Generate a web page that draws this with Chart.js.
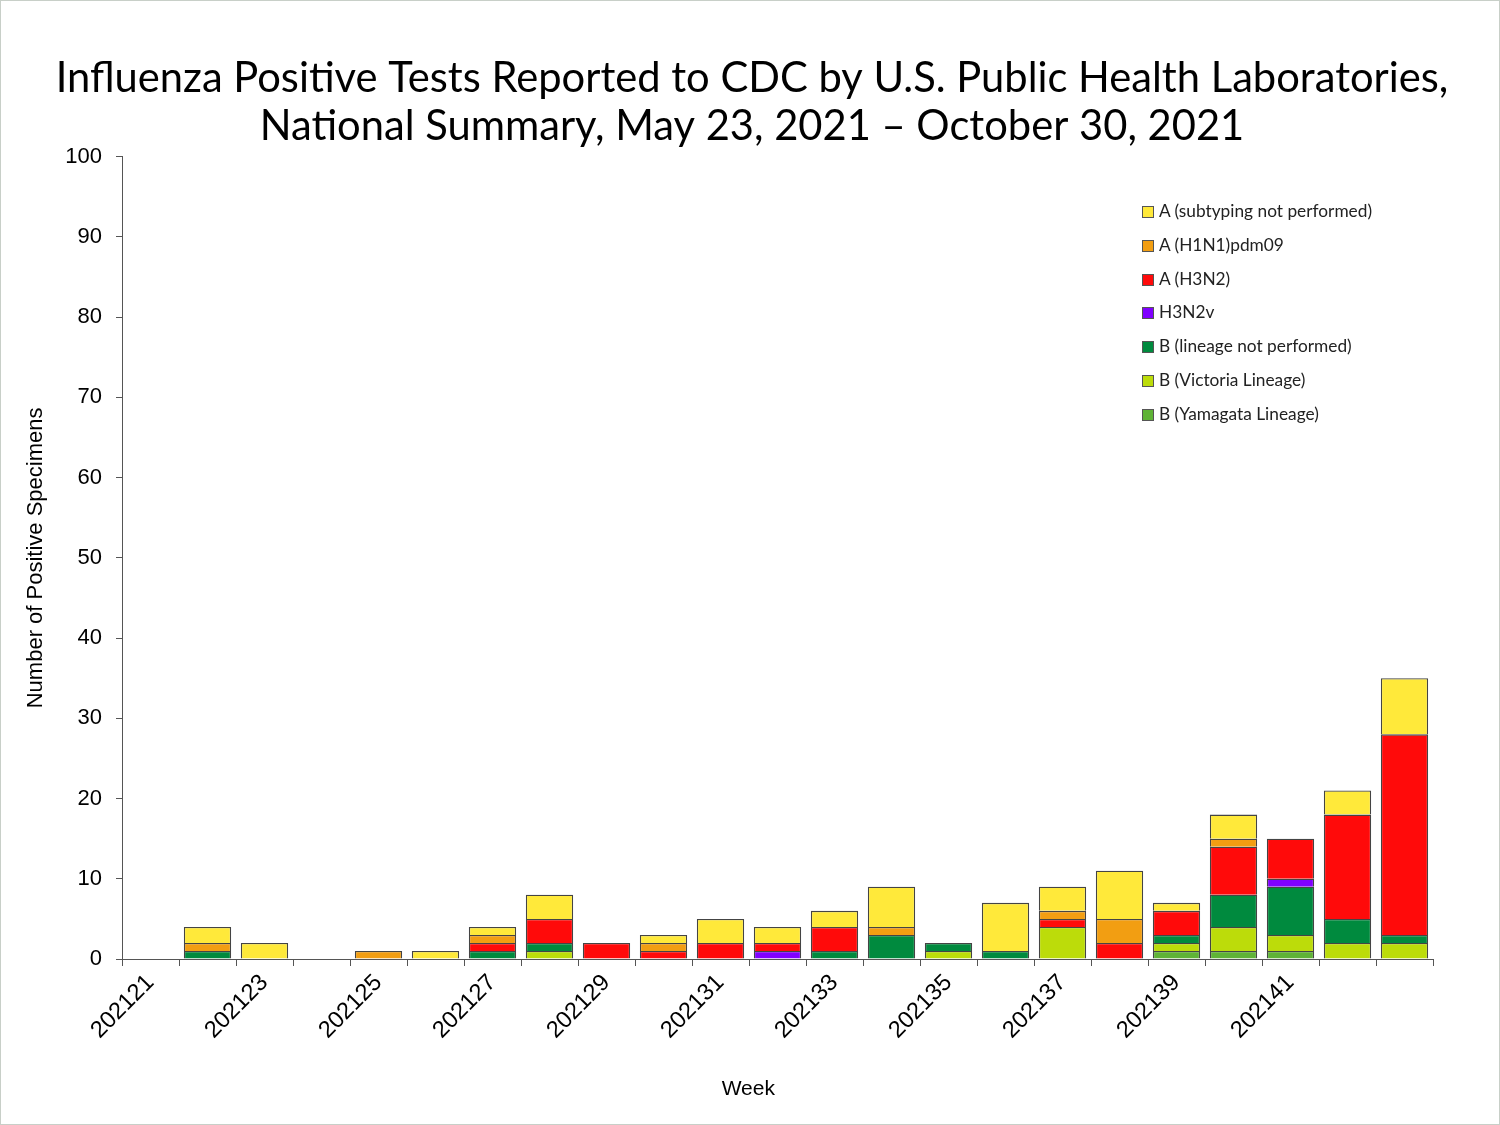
<!DOCTYPE html>
<html>
<head>
<meta charset="utf-8">
<script src="https://cdn.jsdelivr.net/npm/chart.js@4.4.1/dist/chart.umd.min.js"></script>
<style>
  html, body { margin: 0; padding: 0; background: #fff; }
  #wrap { position: relative; width: 1500px; height: 1125px; box-sizing: border-box; border: 1px solid #c8cfc8; }
  #chart { position: absolute; left: 0; top: 0; }
  #legend { position: absolute; left: 1141px; top: 199px; font-family: Lato, 'Open Sans', sans-serif; font-size: 17.3px; color: #222; }
  #legend div { height: 33.8px; display: flex; align-items: flex-start; }
  #legend span.box { display: inline-block; width: 10px; height: 10px; border: 1px solid #555; margin: 6px 5px 0 0; }
</style>
</head>
<body>
<div id="wrap">
  <canvas id="chart" width="1500" height="1125"></canvas>
  <div id="legend"></div>
</div>
<script>
// weeks shown on the x axis
const weeks = ['202121', '202122', '202123', '202124', '202125', '202126', '202127', '202128',
  '202129', '202130', '202131', '202132', '202133', '202134', '202135', '202136', '202137',
  '202138', '202139', '202140', '202141', '202142', '202143']

// counts per week, one array per virus type
const bYamagata = [0, 0, 0, 0, 0, 0, 0, 0, 0, 0, 0, 0, 0, 0, 0, 0, 0, 0, 1, 1, 1, 0, 0]
const bVictoria = [0, 0, 0, 0, 0, 0, 0, 1, 0, 0, 0, 0, 0, 0, 1, 0, 4, 0, 1, 3, 2, 2, 2]
const bLineageNotPerformed = [0, 1, 0, 0, 0, 0, 1, 1, 0, 0, 0, 0, 1, 3, 1, 1, 0, 0, 1, 4, 6, 3, 1]
const h3n2v = [0, 0, 0, 0, 0, 0, 0, 0, 0, 0, 0, 1, 0, 0, 0, 0, 0, 0, 0, 0, 1, 0, 0]
const aH3N2 = [0, 0, 0, 0, 0, 0, 1, 3, 2, 1, 2, 1, 3, 0, 0, 0, 1, 2, 3, 6, 5, 13, 25]
const aH1N1 = [0, 1, 0, 0, 1, 0, 1, 0, 0, 1, 0, 0, 0, 1, 0, 0, 1, 3, 0, 1, 0, 0, 0]
const aNotSubtyped = [0, 2, 2, 0, 0, 1, 1, 3, 0, 1, 3, 2, 2, 5, 0, 6, 3, 6, 1, 3, 0, 3, 7]

const yTicks = [0, 10, 20, 30, 40, 50, 60, 70, 80, 90, 100]
// only every other week gets a label, the last one is left blank
const xTickLabels = ['202121', '', '202123', '', '202125', '', '202127', '', '202129', '',
  '202131', '', '202133', '', '202135', '', '202137', '', '202139', '', '202141', '', '']

// bottom of the stack first
const series = [
  { label: 'B (Yamagata Lineage)', data: bYamagata, color: '#5fb336' },
  { label: 'B (Victoria Lineage)', data: bVictoria, color: '#bcdc0a' },
  { label: 'B (lineage not performed)', data: bLineageNotPerformed, color: '#008a3e' },
  { label: 'H3N2v', data: h3n2v, color: '#8000ff' },
  { label: 'A (H3N2)', data: aH3N2, color: '#ff0a0a' },
  { label: 'A (H1N1)pdm09', data: aH1N1, color: '#f29e12' },
  { label: 'A (subtyping not performed)', data: aNotSubtyped, color: '#ffe93a' }
]

const datasets = series.map(s => {
  return {
    label: s.label,
    data: s.data,
    backgroundColor: s.color,
    borderColor: '#444',
    borderWidth: 1.3,
    categoryPercentage: 0.83,
    barPercentage: 1,
    stack: 'flu',
    yAxisID: 'y'
  }
})

const axisColor = '#555'
const arial = 'Liberation Sans, Arial, sans-serif'

const configuration = {
  type: 'bar',
  data: {
    labels: weeks,
    datasets: datasets
  },
  options: {
    responsive: false,
    animation: false,
    layout: {
      padding: { left: 18, right: 16, top: 0, bottom: 20 }
    },
    scales: {
      x: {
        stacked: true,
        grid: {
          offset: true,
          drawOnChartArea: false,
          drawTicks: true,
          tickLength: 7,
          color: axisColor
        },
        border: { color: axisColor, width: 1 },
        ticks: {
          autoSkip: false,
          maxRotation: 45,
          minRotation: 45,
          color: '#000',
          font: { family: arial, size: 23.5 },
          callback: function (value, index) {
            return xTickLabels[index]
          }
        },
        title: {
          display: true,
          // trailing spaces pull the centred title a little to the left, as in the original
          text: 'Week          ',
          color: '#000',
          font: { family: arial, size: 21 }
        },
        afterFit: function (scale) {
          scale.height = 1125 - 958 - 20
        }
      },
      y: {
        stacked: true,
        min: 0,
        max: 100,
        afterBuildTicks: function (scale) {
          scale.ticks = yTicks.map(v => ({ value: v }))
        },
        grid: {
          drawOnChartArea: false,
          drawTicks: true,
          tickLength: 6,
          color: axisColor
        },
        border: { color: axisColor, width: 1 },
        ticks: {
          color: '#000',
          padding: 14,
          font: { family: arial, size: 22 }
        },
        title: {
          display: true,
          text: 'Number of Positive Specimens',
          color: '#000',
          font: { family: arial, size: 22 }
        },
        afterFit: function (scale) {
          scale.width = 121 - 18
        }
      },
      // empty axis on the right, only keeps the plot's right edge where it is
      spacer: {
        position: 'right',
        grid: { display: false },
        border: { display: false },
        ticks: { display: false },
        afterFit: function (scale) {
          scale.width = 1500 - 16 - 1432
        }
      }
    },
    plugins: {
      legend: { display: false },
      tooltip: { enabled: false },
      title: {
        display: true,
        text: ['Influenza Positive Tests Reported to CDC by U.S. Public Health Laboratories,',
          'National Summary, May 23, 2021 \u2013 October 30, 2021'],
        color: '#000',
        font: { family: 'Lato, sans-serif', size: 41.7, weight: 'normal', lineHeight: 1.16 },
        padding: { top: 53, bottom: 6 }
      }
    }
  }
}

const ctx = document.getElementById('chart').getContext('2d')
const myChart = new Chart(ctx, configuration)

// legend sits inside the plot, top item first
const legend = document.getElementById('legend')
series.slice().reverse().forEach(s => {
  const row = document.createElement('div')
  const box = document.createElement('span')
  box.className = 'box'
  box.style.background = s.color
  row.appendChild(box)
  row.appendChild(document.createTextNode(s.label))
  legend.appendChild(row)
})
</script>
</body>
</html>
